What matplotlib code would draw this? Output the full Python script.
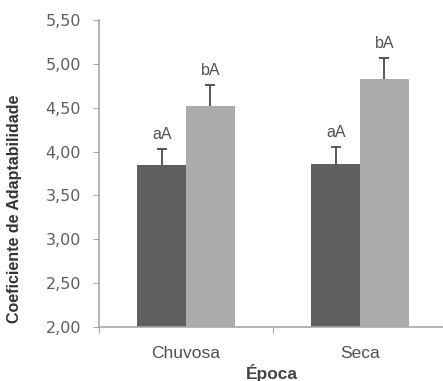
import matplotlib.pyplot as plt
import numpy as np

# data
epocas = ['Chuvosa', 'Seca']
serie_escura = [3.85, 3.86]
serie_clara = [4.52, 4.83]
erro_escura = [0.18, 0.19]
erro_clara = [0.24, 0.24]
letras_escura = ['aA', 'aA']
letras_clara = ['bA', 'bA']

cor_escura = '#5f5f5f'
cor_clara = '#ababab'
cor_eixo = '#a8a8a8'
cor_texto = '#505050'

fig = plt.figure(figsize=(4.43, 3.81), dpi=100)
ax = fig.add_axes([99 / 443, 1 - 327 / 381, 348 / 443, 307 / 381])

x = np.arange(len(epocas))
w = 0.28


def barras(pos, vals, errs, cor, letras):
    ax.bar(pos, vals, w, color=cor)
    # upper-only error bars, lower cap hidden
    _, caps, _ = ax.errorbar(pos, vals, yerr=[np.zeros(len(vals)), errs], fmt='none',
                             ecolor='#4a4a4a', elinewidth=1.3, capsize=3.5, capthick=1.3)
    caps[0].set_visible(False)
    for p, v, e, t in zip(pos, vals, errs, letras):
        ax.annotate(t, (p, v + e), xytext=(0, 7), textcoords='offset points',
                    ha='center', va='baseline', fontsize=11.5, color=cor_texto,
                    family='Liberation Sans')


barras(x - w / 2, serie_escura, erro_escura, cor_escura, letras_escura)
barras(x + w / 2, serie_clara, erro_clara, cor_clara, letras_clara)

ax.set_xlim(-0.5, 1.5)
ax.set_ylim(2.0, 5.5)
yt = np.arange(2.0, 5.51, 0.5)
ax.set_yticks(yt)
ax.set_yticklabels([f'{v:.2f}'.replace('.', ',') for v in yt],
                   fontsize=11.5, color='#5e5e5e', family='DejaVu Sans')

ax.set_xticks([-0.5, 0.5, 1.5])
ax.set_xticklabels([])
ax.set_xticks(x, minor=True)
ax.set_xticklabels(epocas, minor=True, fontsize=12.5, color=cor_texto,
                   family='Liberation Sans')
ax.tick_params(axis='x', which='minor', length=0, pad=14)
ax.tick_params(axis='x', which='major', length=4, color=cor_eixo, direction='out')
ax.tick_params(axis='y', length=4, color=cor_eixo, pad=9)

for s in ['top', 'right']:
    ax.spines[s].set_visible(False)
for s in ['left', 'bottom']:
    ax.spines[s].set_color(cor_eixo)
    ax.spines[s].set_linewidth(1.2)

fig.text(272 / 443, 1 - 373 / 381, 'Época', ha='center', va='center',
         fontsize=12.5, fontweight='bold', color='#444444', family='Liberation Sans')
fig.text(15 / 443, 1 - 209 / 381, 'Coeficiente de Adaptabilidade', rotation=90,
         ha='center', va='center', fontsize=11.5, fontweight='bold',
         color='#333333', family='Liberation Sans')

fig.savefig('out.png', dpi=100)
